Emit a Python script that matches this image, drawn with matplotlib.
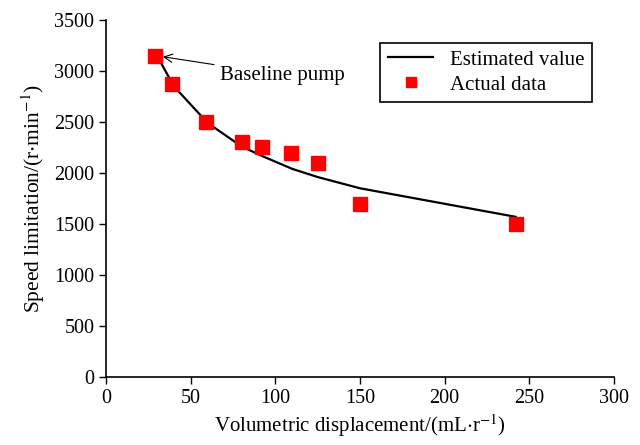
"""
Speed limitation vs volumetric displacement
"""

from matplotlib import pyplot as plt

plt.rcParams['font.family'] = ['Liberation Serif', 'DejaVu Serif']
plt.rcParams['mathtext.fontset'] = 'stix'

# estimated curve
est_x = [30, 40, 60, 80, 93, 110, 125, 150, 242]
est_y = [3150, 2850, 2490, 2260, 2160, 2040, 1960, 1850, 1570]

# actual measurements
act_x = [29, 39, 59, 80, 92, 109, 125, 150, 242]
act_y = [3150, 2870, 2500, 2300, 2250, 2200, 2100, 1700, 1500]

x_ticks = [0, 50, 100, 150, 200, 250, 300]
y_ticks = [0, 500, 1000, 1500, 2000, 2500, 3000, 3500]

fig = plt.figure(figsize=(6.4, 4.45), dpi=100)
ax = fig.add_axes([0.166, 0.153, 0.793, 0.802])

ax.plot(est_x, est_y, color="black", lw=1.6, label="Estimated value")
ax.plot(act_x, act_y, "s", color="red", ms=9.5, mec="red", label="Actual data")

ax.annotate("Baseline pump", xy=(33.5, 3140), xytext=(67, 2960),
            fontsize=15, va="center",
            arrowprops=dict(arrowstyle="->", color="black", lw=0.8,
                            shrinkA=2, shrinkB=0))

ax.set_xlim(0, 300)
ax.set_ylim(0, 3500)
ax.set_xticks(x_ticks)
ax.set_yticks(y_ticks)
ax.tick_params(labelsize=14.5, direction="out", length=5, width=1)
ax.spines["top"].set_visible(False)
ax.spines["right"].set_visible(False)
for s in ["left", "bottom"]:
    ax.spines[s].set_linewidth(1.2)

ax.set_xlabel(r"Volumetric displacement/(mL$\cdot$r$^{-1}$)", fontsize=15, labelpad=3)
ax.set_ylabel(r"Speed limitation/(r$\cdot$min$^{-1}$)", fontsize=15.5, labelpad=5)

leg = ax.legend(loc="upper right", bbox_to_anchor=(0.957, 0.936), fontsize=15,
                frameon=True, fancybox=False, edgecolor="black", borderaxespad=0,
                handlelength=2.2, borderpad=0.35, labelspacing=0.25, framealpha=1,
                markerscale=0.75)
leg.get_frame().set_linewidth(1.2)

plt.savefig("out.png")
